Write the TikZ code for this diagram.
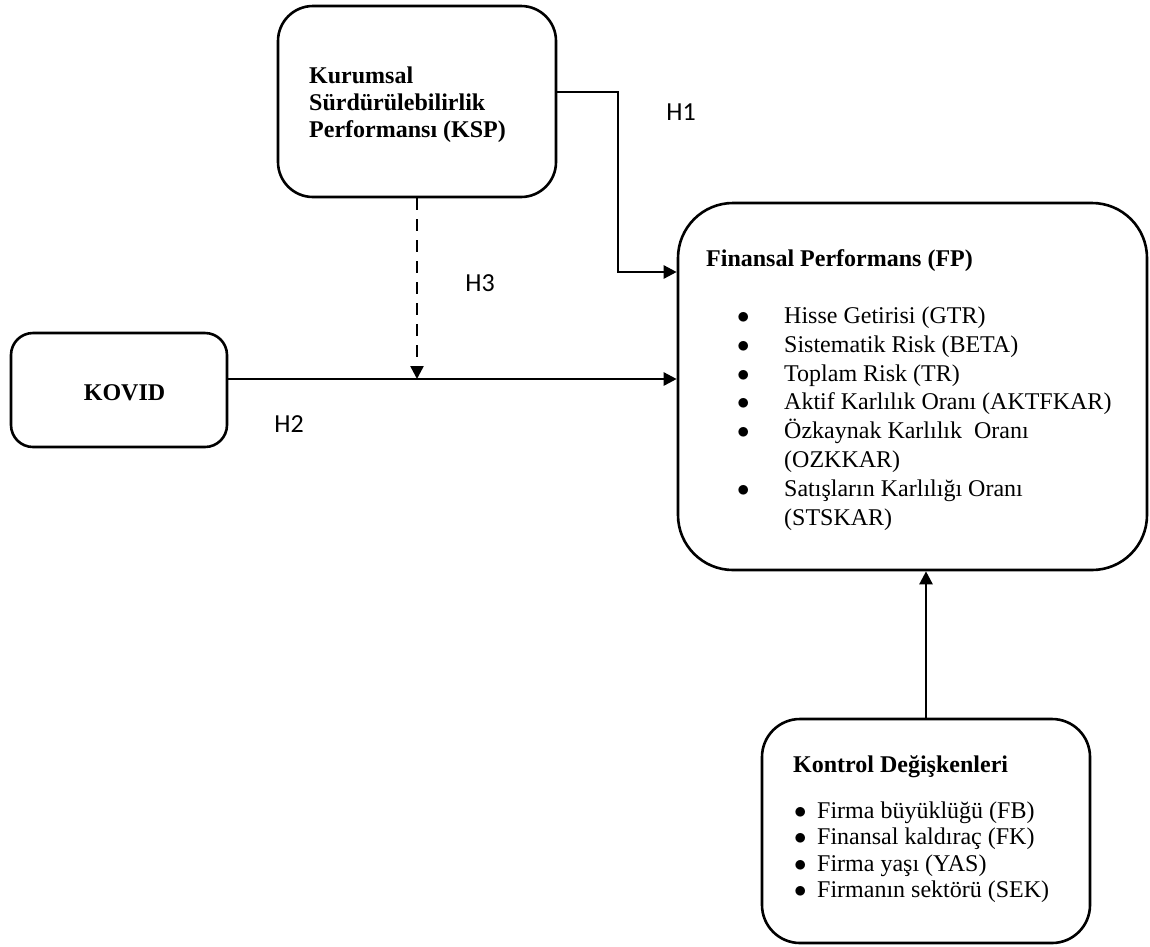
\documentclass[tikz,border=0pt]{standalone}
\usepackage{fontspec}
\setmainfont{Liberation Serif}
\newfontfamily\hfont{Carlito}
\usetikzlibrary{arrows.meta}
\newcommand{\bul}{$\bullet$}
\begin{document}
\begin{tikzpicture}[x=1pt,y=-1pt,
  rbox/.style={draw,line width=2.6pt,inner sep=0pt,rounded corners=#1},
  arr/.style={line width=2.5pt,-{Triangle[length=13pt,width=13pt]}},
  txt/.style={inner sep=0pt,font=\fontsize{24}{27}\selectfont},
  hlab/.style={inner sep=0pt,font=\hfont\fontsize{26}{30}\selectfont}]
\useasboundingbox (0,0) rectangle (1150,946);
% boxes
\node[rbox=35pt,minimum width=278pt,minimum height=191pt] (ksp) at (417,101.5) {};
\node[rbox=22pt,minimum width=216pt,minimum height=114pt] (kovid) at (119,390) {};
\node[rbox=55pt,minimum width=469pt,minimum height=367pt] (fp) at (912.5,386.5) {};
\node[rbox=38pt,minimum width=328pt,minimum height=224pt] (ctrl) at (926,831) {};
% texts
\node[txt,anchor=north west] (ksptext) at (309,64.1)
  {\fontsize{24}{27}\selectfont\bfseries\begin{tabular}{@{}l@{}}Kurumsal\\ Sürdürülebilirlik\\ Performansı (KSP)\end{tabular}};
\node[txt,anchor=base,font=\fontsize{24}{27}\selectfont\bfseries] (kovidtext) at (124.5,400) {KOVID};
\node[txt,anchor=base west,font=\fontsize{24}{27}\selectfont\bfseries] (fptitle) at (706,266) {Finansal Performans (FP)};
\node[txt,anchor=north west] (fplist) at (737,302.8)
  {\fontsize{24}{28.9}\selectfont\begin{tabular}{@{}l@{}l@{}}
  \makebox[47pt][l]{\bul} & Hisse Getirisi (GTR)\\
  \bul & Sistematik Risk (BETA)\\
  \bul & Toplam Risk (TR)\\
  \bul & Aktif Karlılık Oranı (AKTFKAR)\\
  \bul & Özkaynak Karlılık\ \ Oranı\\
   & (OZKKAR)\\
  \bul & Satışların Karlılığı Oranı\\
   & (STSKAR)
  \end{tabular}};
\node[txt,anchor=base west,font=\fontsize{24}{27}\selectfont\bfseries] (ctrltitle) at (793,772) {Kontrol Değişkenleri};
\node[txt,anchor=north west] (ctrllist) at (794,799.5)
  {\fontsize{24}{26.5}\selectfont\begin{tabular}{@{}l@{}l@{}}
  \makebox[23pt][l]{\bul} & Firma büyüklüğü (FB)\\
  \bul & Finansal kaldıraç (FK)\\
  \bul & Firma yaşı (YAS)\\
  \bul & Firmanın sektörü (SEK)
  \end{tabular}};
% hypothesis labels
\node[hlab] (h1) at (681,112) {H1};
\node[hlab] (h3) at (480,283) {H3};
\node[hlab] (h2) at (289,424) {H2};
% connectors
\coordinate (ks) at ([yshift=11pt]kovid.east);
\coordinate (bend) at (618,272);
\draw[arr] ([yshift=9.5pt]ksp.east) -| (bend) -- (bend -| fp.west);
\draw[arr] (ks) -- (ks -| fp.west);
\draw[arr,dash pattern=on 12pt off 9pt] (ksp.south) -- (ksp.south |- ks);
\draw[arr] (ctrl.north) -- (ctrl.north |- fp.south);
\end{tikzpicture}
\end{document}
